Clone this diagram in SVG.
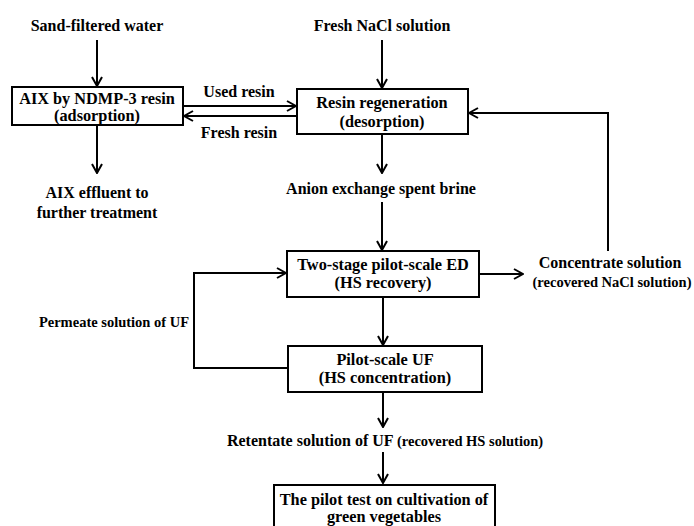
<svg xmlns="http://www.w3.org/2000/svg" width="694" height="526" viewBox="0 0 694 526">
<defs>
<style>
text{font-family:"Liberation Serif","Times New Roman",serif;font-weight:bold;fill:#000;text-anchor:middle}
.l{font-size:16px}
.b{font-size:16.3px}
.s{font-size:14.5px}
.box{fill:#fff;stroke:#000;stroke-width:2}
.c{fill:none;stroke:#000;stroke-width:2}
</style>
<marker id="ah" viewBox="0 0 12 12" refX="11" refY="6" markerWidth="12" markerHeight="12" orient="auto" markerUnits="userSpaceOnUse">
<path d="M2,1 L11,6 L2,11" fill="none" stroke="#000" stroke-width="2"/>
</marker>
</defs>
<rect width="694" height="526" fill="#fff"/>
<g id="connectors">
<line class="c" x1="97" y1="40" x2="97" y2="86" marker-end="url(#ah)"/>
<line class="c" x1="382" y1="40" x2="382" y2="88" marker-end="url(#ah)"/>
<line class="c" x1="184" y1="106" x2="296" y2="106" marker-end="url(#ah)"/>
<line class="c" x1="296" y1="116" x2="184" y2="116" marker-end="url(#ah)"/>
<line class="c" x1="97" y1="125" x2="97" y2="173" marker-end="url(#ah)"/>
<line class="c" x1="382" y1="134" x2="382" y2="173" marker-end="url(#ah)"/>
<polyline class="c" points="608,251 608,113 469,113" marker-end="url(#ah)"/>
<line class="c" x1="382" y1="202" x2="382" y2="250" marker-end="url(#ah)"/>
<line class="c" x1="479" y1="274" x2="523" y2="274" marker-end="url(#ah)"/>
<line class="c" x1="383" y1="297" x2="383" y2="345" marker-end="url(#ah)"/>
<polyline class="c" points="288,368 194,368 194,273 286,273" marker-end="url(#ah)"/>
<line class="c" x1="383" y1="392" x2="383" y2="427" marker-end="url(#ah)"/>
<line class="c" x1="383" y1="452" x2="383" y2="483" marker-end="url(#ah)"/>
</g>
<g id="n-sand"><text class="l" x="97" y="31">Sand-filtered water</text></g>
<g id="n-nacl"><text class="l" x="382" y="31">Fresh NaCl solution</text></g>
<g id="n-aix">
<rect class="box" x="12" y="87" width="171" height="38"/>
<text class="b" x="97" y="104">AIX by NDMP-3 resin</text>
<text class="b" x="97" y="121">(adsorption)</text>
</g>
<g id="n-regen">
<rect class="box" x="297" y="89" width="171" height="45"/>
<text class="b" x="382" y="108">Resin regeneration</text>
<text class="b" x="382" y="127">(desorption)</text>
</g>
<g id="l-used"><text class="l" x="239" y="97">Used resin</text></g>
<g id="l-fresh"><text class="l" x="239" y="138">Fresh resin</text></g>
<g id="n-effluent">
<text class="l" x="97" y="198">AIX effluent to</text>
<text class="l" x="97" y="218">further treatment</text>
</g>
<g id="n-brine"><text class="l" x="381" y="194">Anion exchange spent brine</text></g>
<g id="n-ed">
<rect class="box" x="287" y="251" width="192" height="46"/>
<text class="b" x="383" y="270">Two-stage pilot-scale ED</text>
<text class="b" x="383" y="288">(HS recovery)</text>
</g>
<g id="n-conc">
<text class="l" x="610" y="268">Concentrate solution</text>
<text class="s" x="612" y="287">(recovered NaCl solution)</text>
</g>
<g id="l-perm"><text class="s" x="114" y="327">Permeate solution of UF</text></g>
<g id="n-uf">
<rect class="box" x="288" y="346" width="194" height="46"/>
<text class="b" x="385" y="365">Pilot-scale UF</text>
<text class="b" x="385" y="383">(HS concentration)</text>
</g>
<g id="n-retentate"><text class="l" x="385" y="446">Retentate solution of UF <tspan class="s">(recovered HS solution)</tspan></text></g>
<g id="n-pilot">
<rect class="box" x="274" y="485" width="221" height="50"/>
<text class="b" x="384" y="505">The pilot test on cultivation of</text>
<text class="b" x="384" y="522">green vegetables</text>
</g>
</svg>
